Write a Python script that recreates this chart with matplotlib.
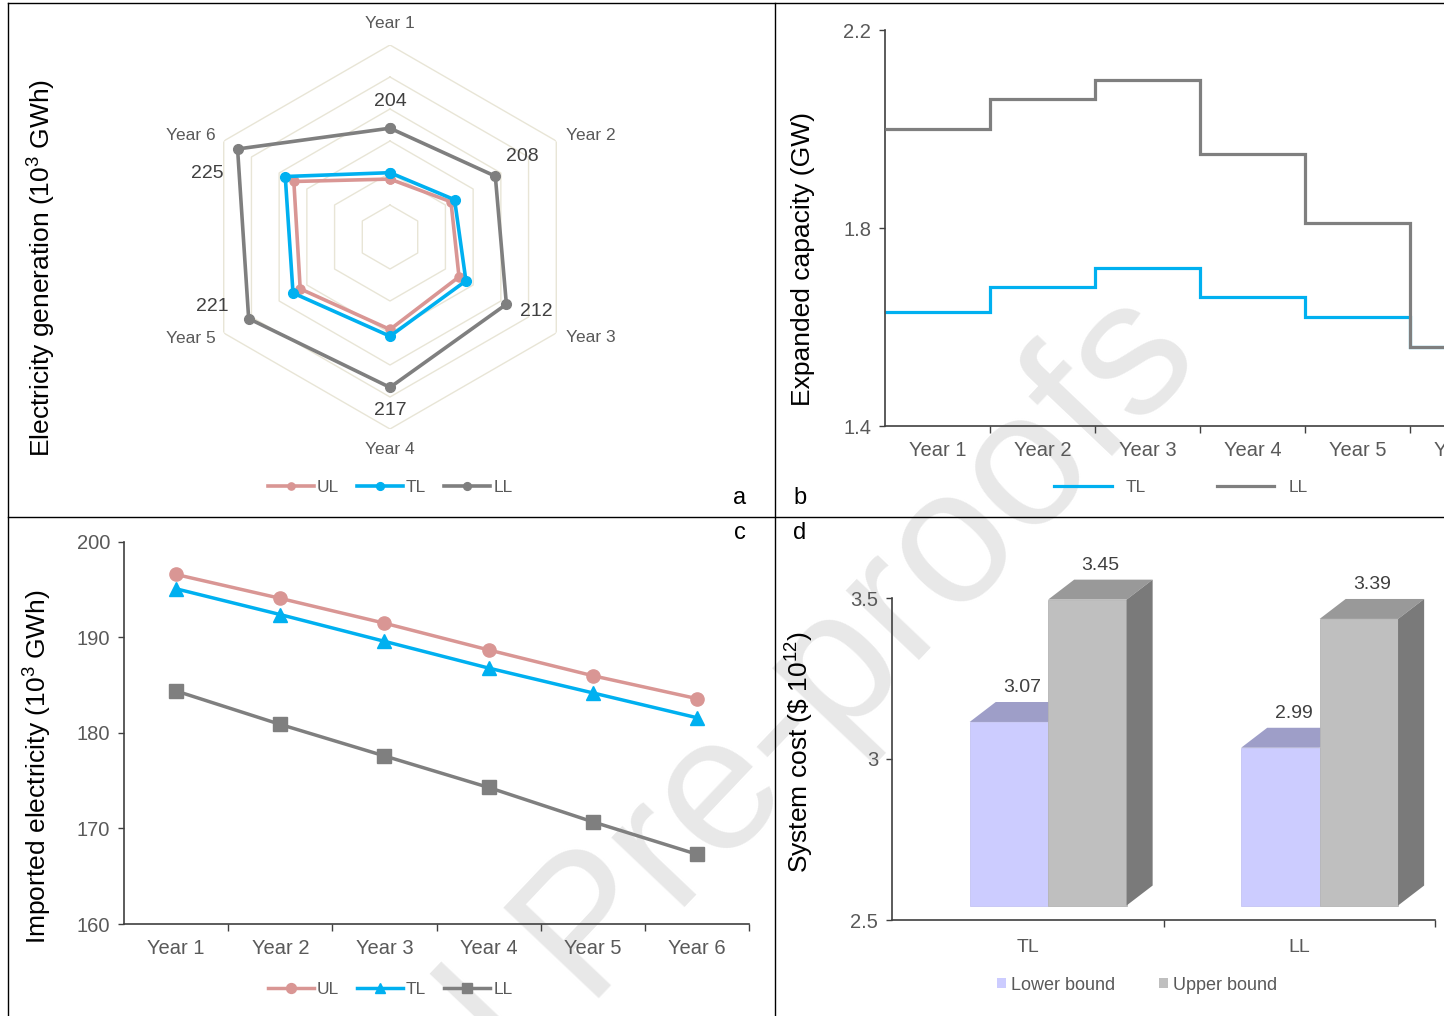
import numpy as np
import matplotlib
matplotlib.use('Agg')
import matplotlib.pyplot as plt
from matplotlib.lines import Line2D
from matplotlib.patches import Polygon, Patch

plt.rcParams['font.family'] = ['Liberation Sans', 'DejaVu Sans']
plt.rcParams['mathtext.default'] = 'regular'

# ---------------- data ----------------
years = ['Year 1', 'Year 2', 'Year 3', 'Year 4', 'Year 5', 'Year 6']
scen = ['UL', 'TL', 'LL']

# (a) electricity generation (10^3 GWh)
gen_UL = [188.1, 192.0, 194.9, 198.9, 202.4, 204.7]
gen_TL = [190.1, 193.3, 197.4, 201.0, 205.0, 207.8]
gen_LL = [204, 208, 212, 217, 221, 225]
gen_grid = [180, 190, 200, 210, 220, 230]

# (b) expanded capacity (GW)
cap_TL = [1.63, 1.68, 1.72, 1.66, 1.62, 1.56]
cap_LL = [2.00, 2.06, 2.10, 1.95, 1.81, 1.56]
cap_ticks = [1.4, 1.8, 2.2]

# (c) imported electricity (10^3 GWh)
imp_UL = [196.6, 194.1, 191.5, 188.7, 186.0, 183.6]
imp_TL = [195.1, 192.4, 189.6, 186.8, 184.2, 181.6]
imp_LL = [184.4, 180.9, 177.6, 174.3, 170.7, 167.3]
imp_ticks = [160, 170, 180, 190, 200]

# (d) system cost ($ 10^12)
cost_cats = ['TL', 'LL']
cost_lower = [3.07, 2.99]
cost_upper = [3.45, 3.39]
cost_ticks = [2.5, 3, 3.5]
cost_ticklabels = ['2.5', '3', '3.5']

# ---------------- styling ----------------
W, H = 1444, 1016
C_UL, C_TL, C_LL = '#D99694', '#00B0F0', '#7F7F7F'
TICKC = '#595959'
AXC = '#404040'

def fx(px):
    return px / W

def fy(py):
    return 1 - py / H

fig = plt.figure(figsize=(W / 100, H / 100), dpi=100)

# watermark
fig.text(fx(1204), fy(360), 'Journal Pre-proofs', rotation=46.5, rotation_mode='anchor',
         ha='right', va='baseline', fontsize=138, color='#E8E8E8', zorder=-10)

# panel borders
for xs, ys in [((8, 8), (3, 1016)), ((8, 1444), (3, 3)), ((775, 775), (3, 1016)), ((8, 1444), (517, 517))]:
    fig.add_artist(Line2D([fx(xs[0]), fx(xs[1])], [fy(ys[0]), fy(ys[1])], color='black', lw=1.0,
                          transform=fig.transFigure))

def style_axes(ax):
    ax.set_facecolor('none')
    for s in ['top', 'right']:
        ax.spines[s].set_visible(False)
    for s in ['left', 'bottom']:
        ax.spines[s].set_color(AXC)
        ax.spines[s].set_linewidth(1.2)
    ax.tick_params(axis='both', colors=AXC, labelcolor=TICKC, labelsize=14.5)

# ---------------- (a) radar ----------------
R = 192
axa = fig.add_axes([fx(390 - R), fy(237 + R), 2 * R / W, 2 * R / H], projection='polar')
axa.set_theta_zero_location('N')
axa.set_theta_direction(-1)
axa.set_ylim(170, 230)
axa.axis('off')
theta = np.arange(6) * 2 * np.pi / 6
thc = np.append(theta, theta[0])
for r in gen_grid:
    axa.plot(thc, [r] * 7, color='#E8E5D6', lw=1.0, zorder=1)

lines_a = []
for vals, col, ms, lw in [(gen_UL, C_UL, 6.5, 2.6), (gen_TL, C_TL, 7.0, 2.6), (gen_LL, C_LL, 7.0, 2.6)]:
    v = np.append(vals, vals[0])
    ln, = axa.plot(thc, v, color=col, lw=lw, marker='o', ms=ms, zorder=3)
    lines_a.append(ln)

cat_off = [(0, 21, 'center'), (10, 6, 'left'), (10, -5, 'left'), (0, -20, 'center'),
           (-8, -5, 'right'), (-8, 6, 'right')]
for i, name in enumerate(years):
    dx, dy, ha = cat_off[i]
    axa.annotate(name, xy=(theta[i], gen_grid[-1]), xytext=(dx, dy), textcoords='offset pixels',
                 ha=ha, va='center', fontsize=12.5, color=TICKC, annotation_clip=False)

lab_off = [(0, 27), (27, 20), (30, -7), (0, -23), (-36, 12), (-30, -24)]
for i, v in enumerate(gen_LL):
    axa.annotate(f'{v}', xy=(theta[i], v), xytext=lab_off[i], textcoords='offset pixels',
                 ha='center', va='center', fontsize=14, color='#404040', annotation_clip=False)

leg = axa.legend(lines_a, scen, loc='center', bbox_to_anchor=(fx(390), fy(487)),
                 bbox_transform=fig.transFigure, ncol=3, frameon=False, fontsize=12.5,
                 handlelength=2.65, handletextpad=0.2, columnspacing=1.0, markerscale=0.8)
for t in leg.get_texts():
    t.set_color(TICKC)

fig.text(fx(42), fy(268), 'Electricity generation (10$^{3}$ GWh)', rotation=90,
         ha='center', va='center', fontsize=19)

# ---------------- (b) step ----------------
axb = fig.add_axes([fx(885), fy(426), 630 / W, 396 / H])
style_axes(axb)
edges = np.arange(7)
axb.stairs(cap_TL, edges, baseline=None, color=C_TL, lw=2.3, label='TL', zorder=2)
axb.stairs(cap_LL, edges, baseline=None, color=C_LL, lw=2.3, label='LL', zorder=3)
axb.set_xlim(0, 6)
axb.set_ylim(1.4, 2.2)
axb.set_yticks(cap_ticks)
axb.set_yticklabels([f'{t:.1f}' for t in cap_ticks])
axb.set_xticks(np.arange(6) + 0.5)
axb.set_xticklabels(years)
axb.set_xticks(np.arange(1, 7), minor=True)
axb.tick_params(axis='x', which='major', length=0, pad=11)
axb.tick_params(axis='x', which='minor', length=5, width=1, direction='out', colors=AXC)
axb.tick_params(axis='y', length=4, width=1, pad=6)
hb = [Line2D([], [], color=C_TL, lw=2.3), Line2D([], [], color=C_LL, lw=2.3)]
legb = axb.legend(hb, ['TL', 'LL'], loc='center', bbox_to_anchor=(fx(1181), fy(487)),
                  bbox_transform=fig.transFigure, ncol=2, frameon=False, fontsize=12.5,
                  handlelength=3.3, handletextpad=0.8, columnspacing=4.1)
for t in legb.get_texts():
    t.set_color(TICKC)
fig.text(fx(803), fy(259), 'Expanded capacity (GW)', rotation=90, ha='center', va='center', fontsize=19)

# ---------------- (c) lines ----------------
axc = fig.add_axes([fx(124), fy(924), 625 / W, 382 / H])
style_axes(axc)
xc = np.arange(6) + 0.5
lc = []
for vals, col, mk, ms in [(imp_UL, C_UL, 'o', 9.5), (imp_TL, C_TL, '^', 10.5), (imp_LL, C_LL, 's', 10.5)]:
    ln, = axc.plot(xc, vals, color=col, lw=2.5, marker=mk, ms=ms, clip_on=False, zorder=3)
    lc.append(ln)
axc.set_xlim(0, 6)
axc.set_ylim(160, 200)
axc.set_yticks(imp_ticks)
axc.set_xticks(xc)
axc.set_xticklabels(years)
axc.set_xticks(np.arange(1, 7), minor=True)
axc.tick_params(axis='x', which='major', length=0, pad=11)
axc.tick_params(axis='x', which='minor', length=5, width=1, direction='out', colors=AXC)
axc.tick_params(axis='y', length=4, width=1, pad=6)
legc = axc.legend(lc, scen, loc='center', bbox_to_anchor=(fx(390), fy(989)),
                  bbox_transform=fig.transFigure, ncol=3, frameon=False, fontsize=12.5,
                  handlelength=2.65, handletextpad=0.2, columnspacing=1.0, markerscale=0.75)
for t in legc.get_texts():
    t.set_color(TICKC)
fig.text(fx(38), fy(767), 'Imported electricity (10$^{3}$ GWh)', rotation=90,
         ha='center', va='center', fontsize=19)

# ---------------- (d) pseudo-3D bars ----------------
axd = fig.add_axes([fx(892), fy(920), 543 / W, 322 / H])
style_axes(axd)
axd.set_xlim(0, 2)
axd.set_ylim(2.5, 3.5)
axd.set_yticks(cost_ticks)
axd.set_yticklabels(cost_ticklabels)
axd.set_xticks([0.5, 1.5])
axd.set_xticklabels(cost_cats)
axd.set_xticks([1, 2], minor=True)
axd.tick_params(axis='x', which='major', length=0, pad=14, labelsize=14)
axd.tick_params(axis='x', which='minor', length=5, width=1, direction='out', colors=AXC)
axd.tick_params(axis='y', length=4, width=1, pad=6)

bw = 0.289
off = 0.045   # front-face lift (perspective)
ddx = 0.096   # depth offset x (data units)
ddy = 0.062   # depth offset y (data units)
base = 2.5 + off
pos = np.arange(2)
x_low = pos + 0.286
x_up = pos + 0.575

axd.bar(x_low, np.array(cost_lower) - 2.5, bottom=base, width=bw, align='edge',
        color='#CCCCFF', edgecolor='#C4C4F4', lw=0.6, zorder=2, clip_on=False)
for xl, v in zip(x_low, cost_lower):
    t = v + off
    axd.add_patch(Polygon([(xl, t), (xl + bw, t), (xl + bw + ddx, t + ddy), (xl + ddx, t + ddy)],
                          closed=True, facecolor='#9E9EC8', edgecolor='none', zorder=2.5, clip_on=False))
axd.bar(x_up, np.array(cost_upper) - 2.5, bottom=base, width=bw, align='edge',
        color='#BFBFBF', edgecolor='#B5B5B5', lw=0.6, zorder=3, clip_on=False)
for xl, v in zip(x_up, cost_upper):
    t = v + off
    xr = xl + bw
    axd.add_patch(Polygon([(xl, t), (xr, t), (xr + ddx, t + ddy), (xl + ddx, t + ddy)],
                          closed=True, facecolor='#999999', edgecolor='none', zorder=3.5, clip_on=False))
    axd.add_patch(Polygon([(xr, base), (xr + ddx, base + ddy), (xr + ddx, t + ddy), (xr, t)],
                          closed=True, facecolor='#7A7A7A', edgecolor='none', zorder=3.5, clip_on=False))

for xs, vals in [(x_low, cost_lower), (x_up, cost_upper)]:
    for xl, v in zip(xs, vals):
        axd.annotate(f'{v:.2f}', xy=(xl + bw / 2 + ddx / 2, v + off + ddy), xytext=(0, 4),
                     textcoords='offset points', ha='center', va='bottom', fontsize=14,
                     color='#404040', annotation_clip=False)

hd = [Patch(facecolor='#CCCCFF'), Patch(facecolor='#BFBFBF')]
legd = axd.legend(hd, ['Lower bound', 'Upper bound'], loc='center', bbox_to_anchor=(fx(1137), fy(985)),
                  bbox_transform=fig.transFigure, ncol=2, frameon=False, fontsize=13,
                  handlelength=0.5, handleheight=0.5, handletextpad=0.3, columnspacing=2.4)
for t in legd.get_texts():
    t.set_color(TICKC)
fig.text(fx(800), fy(752), r'System cost (\$ 10$^{12}$)', rotation=90, ha='center', va='center', fontsize=19)

# panel letters
for ch, (px, py) in zip('abcd', [(740, 498), (800, 498), (740, 533), (800, 533)]):
    fig.text(fx(px), fy(py), ch, ha='center', va='center', fontsize=17)

fig.savefig('out.png', dpi=100)
